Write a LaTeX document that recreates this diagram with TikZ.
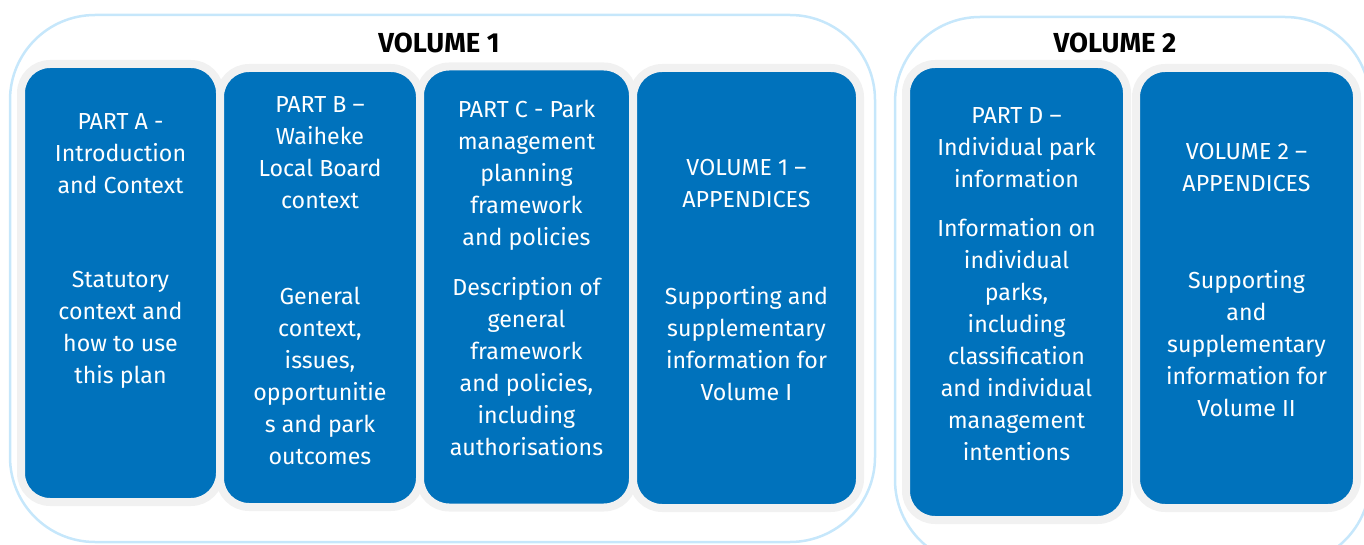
\documentclass[tikz,border=0pt]{standalone}
\usepackage{fontspec}
\setmainfont{Fira Sans}
\usepackage{tikz}

\definecolor{partblue}{HTML}{0072BC}
\definecolor{rimgray}{HTML}{F1F1F1}
\definecolor{framesky}{HTML}{C6E7FB}

\begin{document}
\begin{tikzpicture}[x=1pt, y=-1pt]
\tikzstyle{volframe} = [draw=framesky, line width=2.5pt, rounded corners=85pt]
\tikzstyle{part} = [rectangle, rounded corners=29pt, fill=partblue, draw=rimgray,
                    line width=8pt, inner sep=0pt]
\tikzstyle{txt} = [text=white, align=center, inner sep=0pt,
                   font=\fontsize{23.2}{32}\selectfont]
\tikzstyle{head} = [inner sep=0pt, font=\fontsize{27.5}{30}\selectfont\bfseries]

\useasboundingbox (0,0) rectangle (1364,545);
\clip (0,0) rectangle (1364,545);

% the two volume frames
\draw[volframe] (10,15) rectangle (875,542);
\draw[volframe] (895,17) rectangle (1370,565);

\node[head] (vol1) at (439,43) {VOLUME 1};
\node[head] (vol2) at (1115,43) {VOLUME 2};

% parts of volume 1
\node[part, minimum width=199pt, minimum height=438pt] (partA) at (120.5,283) {};
\node[part, minimum width=200pt, minimum height=439pt] (partB) at (320,287.5) {};
\node[part, minimum width=213pt, minimum height=441pt] (partC) at (526.5,287) {};
\node[part, minimum width=227pt, minimum height=440pt] (appx1) at (746.5,288) {};

% parts of volume 2
\node[part, minimum width=221pt, minimum height=456pt] (partD) at (1016.5,292) {};
\node[part, minimum width=221pt, minimum height=440pt] (appx2) at (1246.5,288) {};

\node[txt] (partAtitle) at (120.5,154) {PART A -\\Introduction\\and Context};
\node[txt] (partAbody) at (120.5,330) {Statutory\\context and\\how to use\\this plan};

\node[txt] (partBtitle) at (320,153) {PART B –\\Waiheke\\Local Board\\context};
\node[txt] (partBbody) at (320,376) {General\\context,\\issues,\\opportunitie\\s and park\\outcomes};

\node[txt] (partCtitle) at (526.5,175) {PART C - Park\\management\\planning\\framework\\and policies};
\node[txt] (partCbody) at (526.5,367) {Description of\\general\\framework\\and policies,\\including\\authorisations};

\node[txt] (appx1title) at (746.5,184) {VOLUME 1 –\\APPENDICES};
\node[txt] (appx1body) at (746.5,344) {Supporting and\\supplementary\\information for\\Volume I};

\node[txt] (partDtitle) at (1016.5,148) {PART D –\\Individual park\\information};
\node[txt] (partDbody) at (1016.5,340) {Information on\\individual\\parks,\\including\\classification\\and individual\\management\\intentions};

\node[txt] (appx2title) at (1246.5,168) {VOLUME 2 –\\APPENDICES};
\node[txt] (appx2body) at (1246.5,344) {Supporting\\and\\supplementary\\information for\\Volume II};
\end{tikzpicture}
\end{document}
